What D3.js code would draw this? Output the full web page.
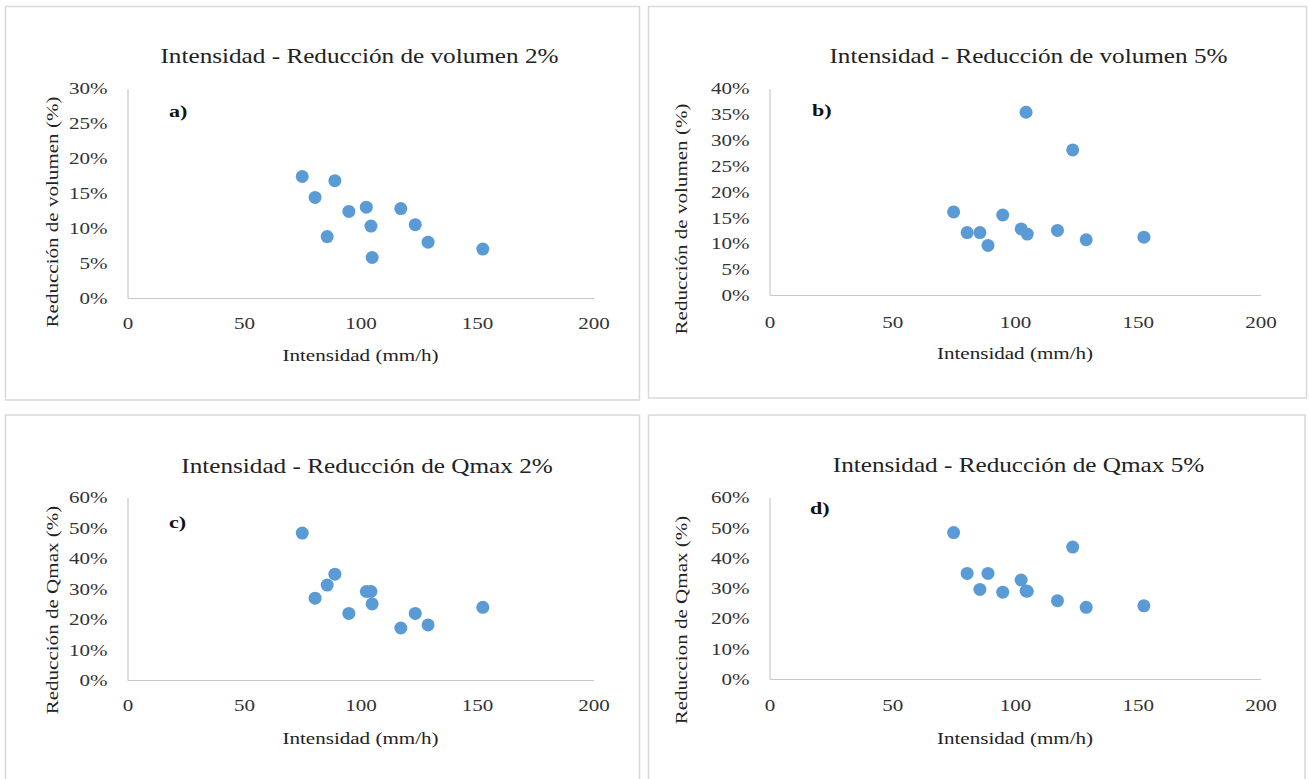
<!DOCTYPE html>
<html>
<head>
<meta charset="utf-8">
<script src="https://cdn.jsdelivr.net/npm/d3@7"></script>
<style>
  body { margin: 0; background: #fff; }
  svg text { font-family: "Liberation Serif", "Times New Roman", serif; }
</style>
</head>
<body>
<div class="container"></div>
<script>
// intensidad de lluvia (mm/h), same events in every panel
const intensidad = [75, 80.5, 85.7, 89, 95, 102.5, 104.5, 105, 117.3, 123.5, 129, 152.5]

// reducciones (%) read per panel
const volumen2 = [17.4, 14.4, 8.8, 16.8, 12.4, 13.0, 10.3, 5.8, 12.8, 10.5, 8.0, 7.0]
const volumen5 = [16.1, 12.1, 12.1, 9.6, 15.5, 12.8, 35.4, 11.8, 12.5, 28.1, 10.7, 11.2]
const qmax2 = [48.3, 26.9, 31.2, 34.8, 21.9, 29.1, 29.1, 25.0, 17.1, 21.9, 18.1, 23.9]
const qmax5 = [48.4, 34.9, 29.6, 34.9, 28.7, 32.7, 29.1, 29.0, 25.9, 43.6, 23.7, 24.2]

const xTicks = [0, 50, 100, 150, 200]
const yTicksVol2 = [0, 5, 10, 15, 20, 25, 30]
const yTicksVol5 = [0, 5, 10, 15, 20, 25, 30, 35, 40]
const yTicksQmax = [0, 10, 20, 30, 40, 50, 60]

const titles = [
  "Intensidad - Reducción de volumen 2%",
  "Intensidad - Reducción de volumen 5%",
  "Intensidad - Reducción de Qmax 2%",
  "Intensidad - Reducción de Qmax 5%"
]
const yTitles = [
  "Reducción de volumen (%)",
  "Reducción de volumen (%)",
  "Reducción de Qmax (%)",
  "Reduccion de Qmax (%)"
]
const letters = ["a)", "b)", "c)", "d)"]
const xTitle = "Intensidad (mm/h)"

const w = 1309
const h = 779
const dotColor = "#5B9BD5"
const font = '"Liberation Serif", "Times New Roman", serif'
const stretch = 1.24   // the source text is wide, squeeze it out along the baseline
const titleStretch = 1.2

// layout of each panel (frame, plot area, text spots)
const panels = [
  { values: volumen2, yTicks: yTicksVol2, frame: [5.5, 6.5, 634, 393.5],
    plot: [127.5, 88.5, 593.5, 298], titleX: 359.5, titleY: 63, yTitleX: 52, yTitleY: 212,
    letterX: 169, letterY: 117, xTickY: 329, xTitleY: 361 },
  { values: volumen5, yTicks: yTicksVol5, frame: [648.5, 6.5, 658, 391.5],
    plot: [769.5, 88.5, 1260.5, 295], titleX: 1028.5, titleY: 63, yTitleX: 681, yTitleY: 219,
    letterX: 812, letterY: 116, xTickY: 328, xTitleY: 359 },
  { values: qmax2, yTicks: yTicksQmax, frame: [5.5, 415, 634, 400],
    plot: [127.5, 497.5, 593.5, 680], titleX: 367, titleY: 473, yTitleX: 52, yTitleY: 610,
    letterX: 169, letterY: 528, xTickY: 711, xTitleY: 744 },
  { values: qmax5, yTicks: yTicksQmax, frame: [648.5, 415, 656.5, 400],
    plot: [769.5, 497.5, 1260.5, 679], titleX: 1018.5, titleY: 472, yTitleX: 681, yTitleY: 620,
    letterX: 810, letterY: 514, xTickY: 711, xTitleY: 744 }
]

const svg = d3.select(".container")
  .append("svg")
  .attr("width", w)
  .attr("height", h)

svg.append("rect").attr("width", w).attr("height", h).attr("fill", "#fff")

panels.forEach((p, i) => {
  const g = svg.append("g")
  const [x0, y0, x1, y1] = p.plot
  const yMax = p.yTicks[p.yTicks.length - 1]

  const xScale = d3.scaleLinear().domain([0, 200]).range([x0, x1])
  const yScale = d3.scaleLinear().domain([0, yMax]).range([y1, y0])

  // chart frame
  g.append("rect")
    .attr("x", p.frame[0])
    .attr("y", p.frame[1])
    .attr("width", p.frame[2])
    .attr("height", p.frame[3])
    .attr("fill", "none")
    .attr("stroke", "#D9D9D9")
    .attr("stroke-width", 1.5)

  const xAxis = d3.axisBottom(xScale).tickValues(xTicks).tickSize(0).tickPadding(0)
  const yAxis = d3.axisLeft(yScale).tickValues(p.yTicks).tickSize(0).tickPadding(0)
    .tickFormat((d) => d + "%")

  const gx = g.append("g")
    .attr("transform", "translate(0," + y1 + ")")
    .call(xAxis)
  gx.select(".domain").attr("stroke", "#C8C8C8").attr("stroke-width", 1.2)
  gx.selectAll("text")
    .attr("y", p.xTickY - y1)
    .attr("dy", null)
    .attr("transform", "scale(" + stretch + ",1)")
    .attr("font-family", font)
    .attr("font-size", 17)
    .attr("fill", "#333")

  const gy = g.append("g")
    .attr("transform", "translate(" + x0 + ",0)")
    .call(yAxis)
  gy.select(".domain").attr("stroke", "#C8C8C8").attr("stroke-width", 1.2)
  gy.selectAll("text")
    .attr("x", -20 / stretch)
    .attr("transform", "scale(" + stretch + ",1)")
    .attr("font-family", font)
    .attr("font-size", 17)
    .attr("fill", "#333")

  // points
  g.selectAll("circle")
    .data(intensidad.map((d, k) => [d, p.values[k]]))
    .enter()
    .append("circle")
    .attr("cx", (d) => xScale(d[0]))
    .attr("cy", (d) => yScale(d[1]))
    .attr("r", 6.5)
    .attr("fill", dotColor)

  g.append("text")
    .attr("transform", "translate(" + p.titleX + "," + p.titleY + ") scale(" + titleStretch + ",1)")
    .attr("text-anchor", "middle")
    .attr("font-family", font)
    .attr("font-size", 21)
    .attr("fill", "#222")
    .text(titles[i])

  g.append("text")
    .attr("transform", "translate(" + ((x0 + x1) / 2) + "," + p.xTitleY + ") scale(" + stretch + ",1)")
    .attr("text-anchor", "middle")
    .attr("font-family", font)
    .attr("font-size", 17)
    .attr("fill", "#222")
    .text(xTitle)

  g.append("text")
    .attr("transform", "translate(" + p.yTitleX + "," + p.yTitleY + ") rotate(-90) scale(" + stretch + ",1)")
    .attr("text-anchor", "middle")
    .attr("dy", "0.35em")
    .attr("font-family", font)
    .attr("font-size", 17)
    .attr("fill", "#222")
    .text(yTitles[i])

  g.append("text")
    .attr("transform", "translate(" + p.letterX + "," + p.letterY + ") scale(1.3,1)")
    .attr("font-family", font)
    .attr("font-size", 17)
    .attr("font-weight", "bold")
    .attr("fill", "#111")
    .text(letters[i])
})
</script>
</body>
</html>
